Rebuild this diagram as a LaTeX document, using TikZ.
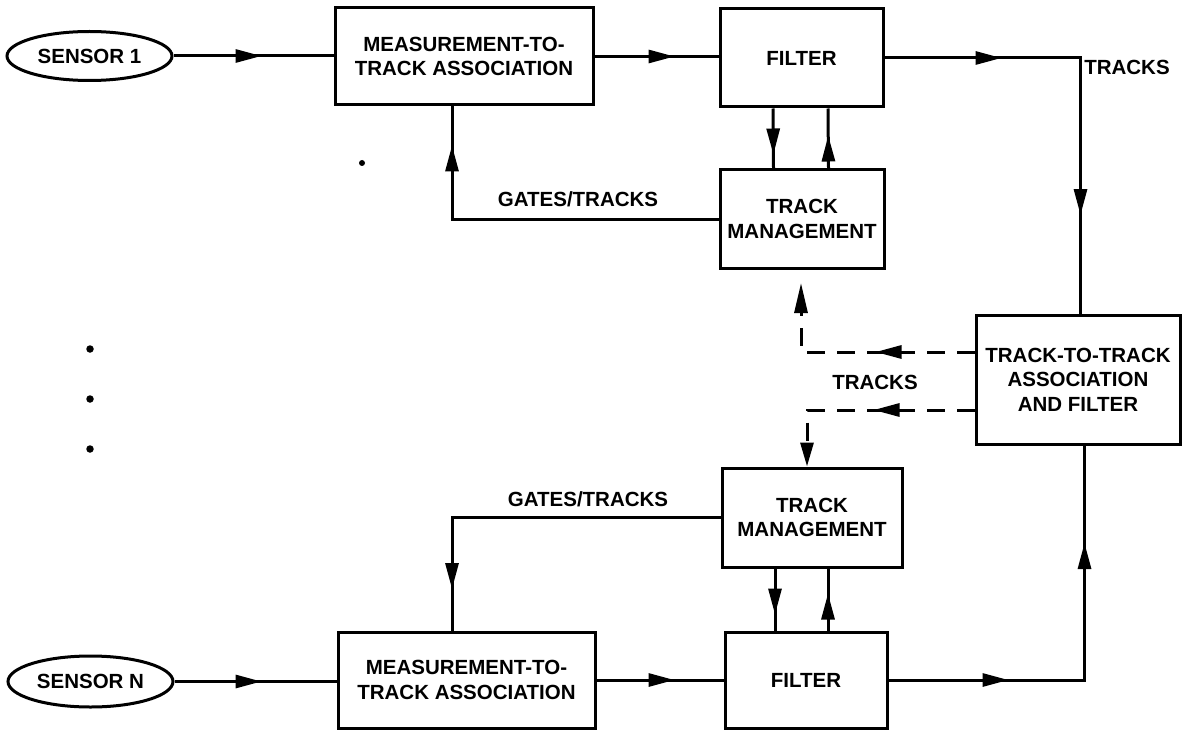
\documentclass[tikz,border=0pt]{standalone}
\usepackage{fontspec}
\setmainfont{Liberation Sans}
\usetikzlibrary{shapes.geometric,arrows.meta,decorations.markings}
\tikzset{
  box/.style={draw,line width=3pt,rectangle,inner sep=0pt,align=center,font=\fontsize{20.5}{24.5}\selectfont\bfseries},
  sensor/.style={draw,line width=3pt,ellipse,inner sep=0pt,font=\fontsize{20.5}{24}\selectfont\bfseries},
  lbl/.style={font=\fontsize{20.5}{24}\selectfont\bfseries,inner sep=0pt},
  conn/.style={line width=3pt},
  dconn/.style={line width=3pt,dash pattern=on 18pt off 12pt},
  arrowat/.style={postaction={decorate,decoration={markings,mark=at position #1 with {\arrow{Triangle[length=26pt,width=13pt]}}}}},
  dotmark/.style={fill,circle,inner sep=0pt,minimum size=7.5pt}
}
\begin{document}
\begin{tikzpicture}[x=1pt,y=-1pt]
\useasboundingbox (0,0) rectangle (1182,730);
% nodes
\node[sensor,minimum width=165pt,minimum height=49pt] (s1) at (89.5,56) {SENSOR 1};
\node[box,minimum width=258pt,minimum height=97pt] (m1) at (464,56.5) {MEASUREMENT-TO-\\TRACK ASSOCIATION};
\node[box,minimum width=163pt,minimum height=98pt] (f1) at (801.5,58) {FILTER};
\node[box,minimum width=164pt,minimum height=98pt] (t1) at (802,219) {TRACK\\MANAGEMENT};
\node[box,minimum width=204pt,minimum height=129pt] (tt) at (1078,379.5) {TRACK-TO-TRACK\\ASSOCIATION\\AND FILTER};
\node[box,minimum width=180pt,minimum height=99pt] (tN) at (812,517.5) {TRACK\\MANAGEMENT};
\node[box,minimum width=257pt,minimum height=96pt] (mN) at (466.5,680) {MEASUREMENT-TO-\\TRACK ASSOCIATION};
\node[box,minimum width=162pt,minimum height=96pt] (fN) at (806,680) {FILTER};
\node[sensor,minimum width=165pt,minimum height=51pt] (sN) at (90.5,681.5) {SENSOR N};
% labels
\node[lbl] (lgt1) at (578,199) {GATES/TRACKS};
\node[lbl] (lgtN) at (588,499) {GATES/TRACKS};
\node[lbl] (ltr1) at (1127,67) {TRACKS};
\node[lbl] (ltr2) at (875,382) {TRACKS};
% dots
\node[dotmark] (d1) at (90,349) {};
\node[dotmark] (d2) at (90,399) {};
\node[dotmark] (d3) at (90,449) {};
\node[dotmark,minimum size=6pt] (d4) at (362,163) {};
% connectors top
\draw[conn,arrowat=88pt] (s1.east) -- (s1.east -| m1.west);
\draw[conn,arrowat=80pt] (m1.east) -- (m1.east -| f1.west);
\draw[conn,arrowat=117pt,arrowat=353pt] (f1.east) -| ([xshift=2.5pt]tt.north);
\draw[conn,arrowat=46pt] ([xshift=-28.5pt]f1.south) -- ([xshift=-28.5pt]t1.north);
\draw[conn,arrowat=33pt] ([xshift=26.5pt]t1.north) -- ([xshift=26.5pt]f1.south);
\draw[conn,arrowat=340pt] (t1.west) -| ([xshift=-12pt]m1.south);
% dashed
\coordinate (u1) at (801,283);
\draw[dconn,arrowat=99pt,-{Triangle[length=30pt,width=13pt]}] ([yshift=27.5pt]tt.west) -| (u1);
\draw[dconn,arrowat=101pt,-{Triangle[length=24pt,width=13pt]}] ([yshift=-30.5pt]tt.west) -| ([xshift=-5pt]tN.north);
% connectors bottom
\draw[conn,arrowat=87pt] (sN.east) -- (sN.east -| mN.west);
\draw[conn,arrowat=78pt] (mN.east) -- (mN.east -| fN.west);
\draw[conn,arrowat=120pt,arrowat=333pt] (fN.east) -| ([xshift=6.5pt]tt.south);
\draw[conn,arrowat=46pt] ([xshift=-37pt]tN.south) -- ([xshift=-37pt]tN.south |- fN.north);
\draw[conn,arrowat=37pt] ([xshift=22pt]fN.north) -- ([xshift=22pt]fN.north |- tN.south);
\draw[conn,arrowat=340pt] (tN.west) -| ([xshift=-14.5pt]mN.north);
\end{tikzpicture}
\end{document}
